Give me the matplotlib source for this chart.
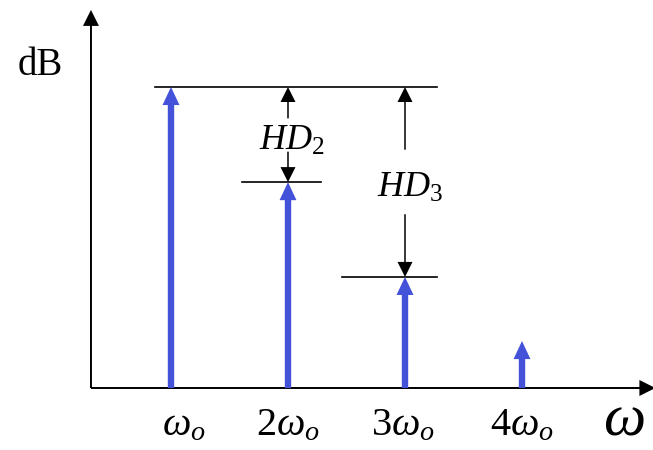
import matplotlib
matplotlib.use("Agg")
import matplotlib.pyplot as plt
from matplotlib.patches import FancyArrowPatch

plt.rcParams['mathtext.fontset'] = 'custom'
plt.rcParams['mathtext.rm'] = 'Liberation Serif'
plt.rcParams['mathtext.it'] = 'Liberation Serif:italic'
plt.rcParams['font.family'] = ['Liberation Serif', 'DejaVu Sans']

# ---- data ----
harmonics = [1, 2, 3, 4]
levels_db = [100, 68.4, 36.9, 15.6]          # relative spectral line heights
tick_labels = [r'$\omega_o$', r'$2\omega_o$', r'$3\omega_o$', r'$4\omega_o$']
hd_labels = [r'$HD_2$', r'$HD_3$']
y_label = 'dB'
x_label = r'$\omega$'

BLUE = '#4451D9'

fig = plt.figure(figsize=(6.53, 4.5), dpi=100)
ax = fig.add_axes([0, 0, 1, 1])
ax.set_xlim(-0.4615, 5.1197)
ax.set_ylim(-20.6, 128.9)
ax.axis('off')


def arrow(p0, p1, tail, head_w, head_l, color):
    a = FancyArrowPatch(p0, p1,
                        arrowstyle=f'simple,tail_width={tail},head_width={head_w},head_length={head_l}',
                        mutation_scale=1, shrinkA=0, shrinkB=0,
                        color=color, linewidth=0, zorder=3)
    ax.add_patch(a)


x0 = 0.316  # y-axis position
# axes
arrow((x0, 0), (x0, 125.6), 1.4, 11.5, 11.5, 'black')
arrow((x0, 0), (5.14, 0), 1.4, 11.5, 11.5, 'black')

# spectral lines
for h, lv in zip(harmonics, levels_db):
    arrow((h, 0), (h, lv), 4.6, 12.2, 13.0, BLUE)

# reference level lines
ax.plot([0.863, 3.274], [levels_db[0]] * 2, color='black', lw=1.2, zorder=2)
ax.plot([1.607, 2.282], [levels_db[1]] * 2, color='black', lw=1.2, zorder=2)
ax.plot([2.462, 3.274], [levels_db[2]] * 2, color='black', lw=1.2, zorder=2)

# HD2 dimension arrows
top = levels_db[0]
gap2 = top - levels_db[1]
arrow((2, top - 0.33 * gap2), (2, top), 1.1, 10.8, 10.8, 'black')
arrow((2, top - 0.68 * gap2), (2, levels_db[1]), 1.1, 10.8, 10.8, 'black')
ax.text(2.03, top - 0.5 * gap2 - 5.0, hd_labels[0], fontsize=26, ha='center', va='baseline')

# HD3 dimension arrows
gap3 = top - levels_db[2]
arrow((3, top - 0.33 * gap3), (3, top), 1.1, 10.8, 10.8, 'black')
arrow((3, top - 0.67 * gap3), (3, levels_db[2]), 1.1, 10.8, 10.8, 'black')
ax.text(3.04, top - 0.5 * gap3 - 5.0, hd_labels[1], fontsize=26, ha='center', va='baseline')

# tick labels
offsets = [0.11, 0.0, -0.02, 0.0]
for h, lab, off in zip(harmonics, tick_labels, offsets):
    ax.text(h + off, -15.6, lab, fontsize=29, ha='center', va='baseline')

ax.text(4.87, -19.8, x_label, fontsize=43, ha='center', va='bottom')
ax.text(-0.12, 104, y_label, fontsize=28, ha='center', va='baseline')

fig.savefig('out.png', dpi=100)
